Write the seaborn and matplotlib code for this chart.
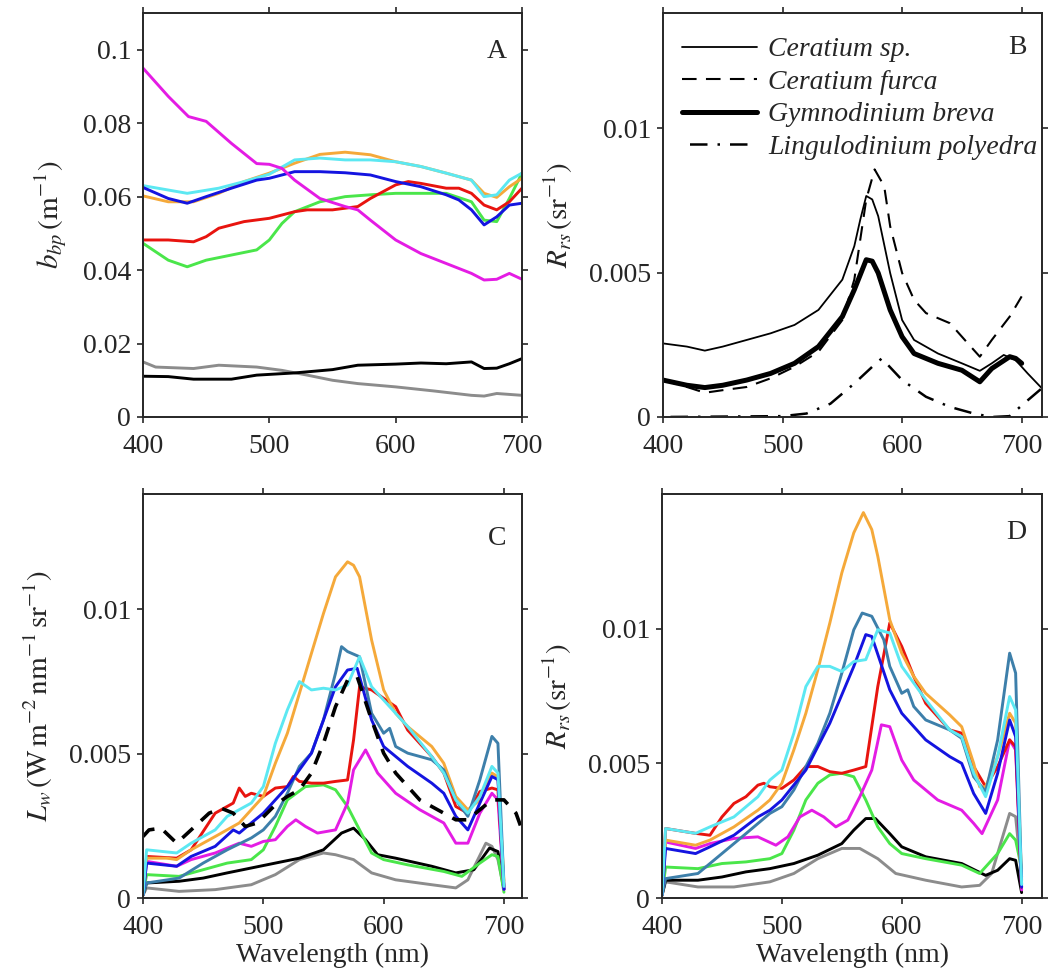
import matplotlib
matplotlib.use("Agg")
import matplotlib.pyplot as plt
from matplotlib.ticker import FuncFormatter, FixedLocator
import seaborn as sns

# ---------------- Panel A: particulate backscattering b_bp ----------------
A_MAGENTA_WL = [400, 420, 436, 450, 470, 490, 500, 510, 520, 540, 560, 570, 580, 600, 620, 640, 660, 670, 680, 690, 700]
A_MAGENTA = [0.095, 0.0873, 0.0818, 0.0805, 0.0745, 0.069, 0.0688, 0.0677, 0.0645, 0.0595, 0.0573, 0.0564, 0.0536,
             0.0482, 0.0445, 0.0418, 0.0391, 0.0373, 0.0375, 0.0391, 0.0375]
A_ORANGE_WL = [400, 420, 440, 460, 480, 500, 520, 540, 560, 580, 600, 620, 640, 660, 670, 680, 690, 700]
A_ORANGE = [0.0602, 0.0586, 0.0586, 0.0609, 0.0641, 0.0664, 0.0691, 0.0715, 0.0721, 0.0714, 0.0695, 0.0682, 0.0664,
            0.0645, 0.0609, 0.0598, 0.0627, 0.065]
A_CYAN_WL = [400, 420, 435, 460, 480, 500, 520, 540, 560, 580, 600, 620, 640, 660, 670, 680, 690, 700]
A_CYAN = [0.063, 0.0618, 0.0609, 0.0623, 0.0641, 0.0661, 0.070, 0.0705, 0.070, 0.070, 0.0695, 0.0682, 0.0664,
          0.0645, 0.060, 0.0605, 0.0645, 0.0664]
A_BLUE_WL = [400, 420, 435, 450, 470, 490, 500, 520, 540, 560, 580, 600, 620, 640, 650, 660, 670, 680, 690, 700]
A_BLUE = [0.0625, 0.0595, 0.0582, 0.060, 0.0623, 0.0645, 0.065, 0.0668, 0.0668, 0.0665, 0.0659, 0.0641, 0.0627,
          0.0605, 0.0591, 0.0564, 0.0523, 0.0545, 0.0577, 0.0582]
A_RED_WL = [400, 420, 440, 450, 460, 480, 500, 520, 530, 550, 570, 580, 600, 610, 620, 640, 650, 660, 670, 680, 690, 700]
A_RED = [0.0482, 0.0482, 0.0477, 0.0491, 0.0514, 0.0532, 0.0541, 0.0559, 0.0564, 0.0564, 0.0573, 0.0595, 0.0632,
         0.0641, 0.0636, 0.0623, 0.0623, 0.0609, 0.0577, 0.0564, 0.0586, 0.0623]
A_GREEN_WL = [400, 420, 435, 450, 470, 490, 500, 510, 520, 540, 560, 580, 600, 620, 640, 660, 670, 680, 690, 700]
A_GREEN = [0.0473, 0.0427, 0.0409, 0.0427, 0.0441, 0.0455, 0.0482, 0.0527, 0.0559, 0.0586, 0.060, 0.0605, 0.0609,
           0.0609, 0.0609, 0.0586, 0.0536, 0.0532, 0.0595, 0.0664]
A_BLACK_WL = [400, 420, 440, 470, 490, 520, 550, 570, 600, 620, 640, 660, 670, 680, 690, 700]
A_BLACK = [0.0111, 0.011, 0.0103, 0.0103, 0.0114, 0.012, 0.0129, 0.0141, 0.0144, 0.0147, 0.0145, 0.015, 0.0132,
           0.0133, 0.0145, 0.0159]
A_GRAY_WL = [400, 410, 440, 460, 490, 510, 530, 550, 570, 600, 630, 660, 670, 680, 700]
A_GRAY = [0.015, 0.0136, 0.0132, 0.0141, 0.0136, 0.0127, 0.0114, 0.010, 0.0091, 0.0082, 0.0071, 0.0059, 0.0057,
          0.0064, 0.0059]

# ---------------- Panel B: modelled R_rs for four dinoflagellates ----------------
SPECIES = ["Ceratium sp.", "Ceratium furca", "Gymnodinium breva", "Lingulodinium polyedra"]
B_CSP_WL = [400, 420, 435, 450, 470, 490, 510, 530, 550, 560, 565, 570, 575, 580, 590, 600, 610, 630, 650, 665,
            675, 685, 695, 705, 717]
B_CSP = [0.00255, 0.00244, 0.0023, 0.00244, 0.00267, 0.0029, 0.00319, 0.00371, 0.00476, 0.00592, 0.00684, 0.00766,
         0.00754, 0.00696, 0.00499, 0.00336, 0.00267, 0.0022, 0.00186, 0.0016, 0.00186, 0.00215, 0.00197, 0.00151,
         0.00099]
B_CFU_WL = [400, 420, 435, 450, 470, 490, 510, 530, 550, 560, 565, 570, 577, 585, 590, 600, 610, 620, 640, 655,
            665, 675, 690, 700]
B_CFU = [0.00128, 0.00104, 0.00084, 0.00093, 0.00104, 0.00134, 0.00174, 0.00226, 0.00336, 0.00476, 0.00615,
         0.00754, 0.00858, 0.008, 0.00661, 0.00499, 0.00406, 0.0036, 0.00325, 0.00255, 0.00209, 0.00267, 0.00348,
         0.00418]
B_GBR_WL = [400, 420, 435, 450, 470, 490, 510, 530, 550, 560, 570, 575, 580, 590, 600, 610, 630, 650, 665, 675,
            690, 695, 700]
B_GBR = [0.00128, 0.0011, 0.00102, 0.0011, 0.00128, 0.00151, 0.00186, 0.00244, 0.00348, 0.00441, 0.00545, 0.0054,
         0.00499, 0.00371, 0.00278, 0.0022, 0.00186, 0.00162, 0.00122, 0.00168, 0.00209, 0.00203, 0.00186]
B_LPO_WL = [400, 500, 520, 540, 560, 575, 583, 600, 620, 640, 660, 675, 690, 700, 717]
B_LPO = [0.0, 0.00003, 0.00012, 0.00046, 0.00116, 0.00174, 0.00203, 0.00128, 0.0007, 0.00035, 0.00012, 0.0, 0.00003,
         0.0004, 0.001]

# ---------------- Panel C: water-leaving radiance L_w ----------------
C_ORANGE_WL = [400, 403, 420, 428, 440, 460, 480, 490, 500, 510, 520, 530, 540, 550, 560, 570, 575, 580, 590, 600,
               610, 620, 640, 650, 660, 670, 680, 690, 695, 700]
C_ORANGE = [0.0001, 0.00138, 0.00138, 0.00133, 0.00167, 0.00213, 0.0026, 0.00306, 0.00352, 0.00467, 0.00571,
            0.00709, 0.00848, 0.00986, 0.01113, 0.01165, 0.01153, 0.01113, 0.00894, 0.00721, 0.0064, 0.00594,
            0.00525, 0.00467, 0.00352, 0.00306, 0.0034, 0.00433, 0.0042, 0.0006]
C_CYAN_WL = [400, 403, 428, 440, 460, 470, 480, 490, 500, 510, 520, 530, 540, 550, 560, 570, 580, 590, 600, 620,
             640, 650, 660, 670, 680, 690, 695, 700]
C_CYAN = [0.0001, 0.00167, 0.00156, 0.0019, 0.00236, 0.00283, 0.00306, 0.00329, 0.00386, 0.00536, 0.00652, 0.0075,
          0.00721, 0.00727, 0.00721, 0.00738, 0.00836, 0.00732, 0.00686, 0.00594, 0.0049, 0.00433, 0.0034, 0.00294,
          0.00352, 0.00456, 0.00433, 0.0004]
C_STEEL_WL = [400, 403, 430, 450, 470, 490, 500, 510, 520, 530, 540, 550, 560, 565, 570, 580, 590, 600, 605, 610,
              620, 640, 650, 660, 670, 680, 690, 695, 700]
C_STEEL = [0.0001, 0.00052, 0.00069, 0.00121, 0.00167, 0.00208, 0.00236, 0.00283, 0.00363, 0.00456, 0.00502,
           0.00617, 0.00779, 0.00871, 0.00854, 0.00836, 0.0064, 0.00571, 0.00588, 0.00525, 0.00502, 0.00479,
           0.00444, 0.0034, 0.00283, 0.0041, 0.0056, 0.00536, 0.0004]
C_BLUE_WL = [400, 403, 428, 440, 460, 475, 480, 490, 500, 520, 540, 550, 560, 570, 578, 590, 600, 620, 640, 650,
             660, 670, 680, 690, 695, 700]
C_BLUE = [0.0001, 0.00121, 0.0011, 0.00144, 0.00179, 0.00236, 0.00225, 0.0026, 0.00294, 0.00386, 0.00502, 0.00617,
          0.00732, 0.0079, 0.00796, 0.00617, 0.00525, 0.00456, 0.00398, 0.00363, 0.00283, 0.00236, 0.00329, 0.00421,
          0.0041, 0.0003]
C_RED_WL = [400, 403, 428, 440, 460, 475, 480, 485, 490, 500, 510, 520, 525, 530, 540, 550, 560, 570, 575, 580, 590,
            600, 610, 620, 640, 650, 660, 670, 680, 690, 695, 700]
C_RED = [0.0001, 0.00144, 0.00138, 0.00167, 0.00294, 0.00329, 0.00381, 0.00352, 0.00363, 0.00352, 0.00381, 0.00386,
         0.00421, 0.00404, 0.00398, 0.00398, 0.00404, 0.00409, 0.00548, 0.00732, 0.00721, 0.00692, 0.00663,
         0.00582, 0.0049, 0.00433, 0.00317, 0.00294, 0.00369, 0.00381, 0.00375, 0.0004]
C_MAGENTA_WL = [400, 403, 428, 440, 460, 480, 490, 500, 510, 520, 527, 535, 545, 560, 570, 575, 585, 595, 610, 630,
                650, 660, 670, 680, 690, 695, 700]
C_MAGENTA = [0.0001, 0.00127, 0.0011, 0.00133, 0.00156, 0.0019, 0.00179, 0.00196, 0.00202, 0.00248, 0.00271,
             0.00248, 0.00225, 0.00236, 0.00329, 0.00444, 0.00513, 0.00433, 0.00363, 0.00306, 0.0026, 0.0019,
             0.0019, 0.00294, 0.00363, 0.0034, 0.0003]
C_GREEN_WL = [400, 403, 430, 450, 470, 490, 500, 510, 520, 535, 550, 560, 570, 580, 590, 600, 620, 650, 665, 680,
              690, 695, 700]
C_GREEN = [0.0001, 0.00081, 0.00075, 0.00098, 0.00121, 0.00133, 0.00167, 0.00248, 0.0034, 0.00386, 0.00392,
           0.00375, 0.00317, 0.00236, 0.00156, 0.00133, 0.00115, 0.00092, 0.00075, 0.00121, 0.0015, 0.00144, 0.0002]
C_BLACK_WL = [400, 403, 430, 450, 470, 490, 510, 530, 550, 565, 575, 585, 595, 610, 640, 660, 675, 688, 695, 700]
C_BLACK = [0.0001, 0.00052, 0.00058, 0.00069, 0.00087, 0.00104, 0.00121, 0.00138, 0.00167, 0.00225, 0.00242,
           0.00202, 0.0015, 0.00138, 0.0011, 0.00087, 0.00098, 0.00173, 0.00161, 0.0003]
C_GRAY_WL = [400, 403, 430, 460, 490, 510, 530, 550, 560, 575, 590, 610, 640, 660, 670, 685, 690, 695, 700]
C_GRAY = [0.0001, 0.00035, 0.00023, 0.00029, 0.00046, 0.00081, 0.00133, 0.00156, 0.0015, 0.00133, 0.00087, 0.00063,
          0.00046, 0.00035, 0.00063, 0.0019, 0.00179, 0.00133, 0.0003]
C_DASH_WL = [400, 405, 415, 428, 440, 455, 465, 475, 485, 495, 510, 520, 530, 540, 550, 560, 570, 578, 590, 600,
             610, 630, 650, 660, 670, 680, 690, 700, 710, 717]
C_DASH = [0.00213, 0.00236, 0.00242, 0.0019, 0.00236, 0.00294, 0.00311, 0.00294, 0.00248, 0.0026, 0.00323, 0.00352,
          0.00375, 0.00433, 0.00536, 0.00663, 0.00755, 0.00767, 0.00617, 0.00502, 0.00433, 0.0034, 0.00294,
          0.00271, 0.00271, 0.00306, 0.0034, 0.0034, 0.00294, 0.00213]

# ---------------- Panel D: remote-sensing reflectance R_rs ----------------
D_ORANGE_WL = [400, 403, 428, 440, 460, 480, 490, 500, 510, 520, 530, 540, 550, 560, 568, 575, 580, 590, 600, 610,
               620, 640, 650, 660, 665, 670, 680, 690, 695, 700]
D_ORANGE = [0.0001, 0.00215, 0.00196, 0.00215, 0.00264, 0.00326, 0.00364, 0.00426, 0.0055, 0.00686, 0.00847,
            0.01021, 0.01207, 0.01356, 0.01431, 0.01368, 0.01269, 0.01033, 0.00909, 0.00823, 0.0076, 0.0068,
            0.00636, 0.005, 0.00413, 0.00413, 0.00525, 0.00686, 0.00649, 0.00066]
D_CYAN_WL = [400, 403, 428, 440, 460, 480, 490, 500, 510, 520, 530, 540, 550, 560, 570, 580, 590, 600, 620, 640,
             650, 660, 670, 680, 690, 695, 700]
D_CYAN = [0.0001, 0.00258, 0.0024, 0.00264, 0.00301, 0.00376, 0.00438, 0.00475, 0.00612, 0.00785, 0.0086, 0.0086,
          0.00841, 0.00878, 0.00885, 0.00996, 0.00984, 0.0086, 0.00736, 0.00624, 0.00599, 0.00463, 0.00376,
          0.00525, 0.00748, 0.00698, 0.0005]
D_STEEL_WL = [400, 403, 430, 450, 470, 490, 500, 510, 520, 530, 540, 550, 560, 567, 575, 585, 590, 600, 605, 610,
              620, 640, 650, 660, 670, 680, 690, 695, 700]
D_STEEL = [0.0001, 0.00072, 0.00091, 0.00165, 0.00239, 0.00314, 0.00339, 0.00401, 0.00488, 0.00574, 0.00686,
           0.00835, 0.00996, 0.01058, 0.01046, 0.00959, 0.0086, 0.0076, 0.00773, 0.00711, 0.00661, 0.00624,
           0.00593, 0.0045, 0.00395, 0.00587, 0.00909, 0.00835, 0.0005]
D_BLUE_WL = [400, 403, 428, 440, 460, 480, 490, 500, 520, 540, 560, 570, 575, 590, 600, 620, 640, 650, 660, 670,
             680, 690, 695, 700]
D_BLUE = [0.0001, 0.00184, 0.00165, 0.0019, 0.00233, 0.00301, 0.00326, 0.00364, 0.00475, 0.00649, 0.0086, 0.00978,
          0.00971, 0.00773, 0.00686, 0.00587, 0.00525, 0.005, 0.00388, 0.00314, 0.00463, 0.00661, 0.00599, 0.0004]
D_RED_WL = [400, 403, 428, 440, 450, 460, 470, 480, 485, 490, 500, 510, 520, 530, 540, 550, 560, 570, 580, 590, 600,
            610, 620, 640, 650, 660, 670, 680, 690, 695, 700]
D_RED = [0.0001, 0.00258, 0.0024, 0.00233, 0.00301, 0.00351, 0.00376, 0.00419, 0.00426, 0.00413, 0.00407, 0.00438,
         0.00488, 0.00488, 0.00469, 0.00463, 0.00475, 0.00488, 0.00785, 0.01021, 0.00934, 0.00823, 0.00723,
         0.00624, 0.00612, 0.00488, 0.00413, 0.00488, 0.00587, 0.00562, 0.0004]
D_MAGENTA_WL = [400, 403, 428, 440, 460, 480, 495, 505, 515, 525, 535, 545, 555, 565, 575, 583, 590, 600, 610, 630,
                650, 660, 667, 680, 690, 695, 700]
D_MAGENTA = [0.0001, 0.00208, 0.00184, 0.00202, 0.00221, 0.00227, 0.00196, 0.00227, 0.00301, 0.00326, 0.00301,
             0.00264, 0.00289, 0.00376, 0.00475, 0.00643, 0.00636, 0.00512, 0.00438, 0.00364, 0.00326, 0.00277,
             0.00239, 0.00364, 0.00587, 0.0055, 0.0003]
D_GREEN_WL = [400, 403, 430, 450, 470, 490, 500, 510, 520, 530, 540, 550, 560, 570, 580, 590, 600, 620, 650, 665,
              680, 690, 695, 700]
D_GREEN = [0.0001, 0.00115, 0.00109, 0.00128, 0.00134, 0.00146, 0.00165, 0.00252, 0.00364, 0.00426, 0.00457,
           0.00463, 0.0045, 0.00364, 0.00264, 0.00202, 0.00165, 0.00146, 0.00122, 0.00091, 0.00165, 0.00239,
           0.00215, 0.00109]
D_BLACK_WL = [400, 403, 430, 450, 470, 490, 510, 530, 550, 560, 570, 578, 590, 600, 620, 650, 670, 680, 690, 695,
              700]
D_BLACK = [0.0001, 0.00066, 0.00066, 0.00078, 0.00097, 0.00109, 0.00128, 0.00159, 0.00202, 0.00252, 0.00295,
           0.00295, 0.00239, 0.0019, 0.00153, 0.00128, 0.00084, 0.00103, 0.00146, 0.0014, 0.0002]
D_GRAY_WL = [400, 403, 430, 460, 490, 510, 530, 550, 565, 580, 595, 620, 650, 665, 675, 690, 695, 700]
D_GRAY = [0.0001, 0.0006, 0.00041, 0.00041, 0.0006, 0.00091, 0.00146, 0.00184, 0.00184, 0.00146, 0.00091, 0.00066,
          0.00041, 0.00047, 0.00091, 0.00314, 0.00302, 0.00078]

# ---------------- styling ----------------
ORANGE = "#F5A93A"
CYAN = "#5CE8F2"
BLUE = "#1414E0"
RED = "#E8140F"
GREEN = "#4AE64A"
MAGENTA = "#E41CE4"
GRAY = "#8C8C8C"
STEEL = "#3D7FAA"
BLACK = "#000000"

sns.set_style("ticks")
plt.rcParams["font.family"] = ["Liberation Serif", "DejaVu Serif"]
plt.rcParams["mathtext.fontset"] = "stix"
FS = 20

fig = plt.figure(figsize=(10.52, 9.73), dpi=100)
W, H = 1052.0, 973.0


def make_axes(x0, x1, ytop, ybot):
    return fig.add_axes([x0 / W, 1 - ybot / H, (x1 - x0) / W, (ybot - ytop) / H])


axA = make_axes(143, 522, 13, 417)
axB = make_axes(663, 1042, 13, 417)
axC = make_axes(143, 522, 494, 898)
axD = make_axes(662, 1042, 494, 898)

LW = 2.1


def draw(ax, wl, vals, color, lw=LW, ls="-"):
    sns.lineplot(x=wl, y=vals, ax=ax, color=color, linewidth=lw, linestyle=ls, sort=False,
                 estimator=None, legend=False)


# Panel A
for wl, v, c in [(A_GRAY_WL, A_GRAY, GRAY), (A_BLACK_WL, A_BLACK, BLACK), (A_GREEN_WL, A_GREEN, GREEN),
                 (A_RED_WL, A_RED, RED), (A_ORANGE_WL, A_ORANGE, ORANGE), (A_CYAN_WL, A_CYAN, CYAN),
                 (A_BLUE_WL, A_BLUE, BLUE), (A_MAGENTA_WL, A_MAGENTA, MAGENTA)]:
    draw(axA, wl, v, c)

# Panel B
hB = []
for wl, v, lw, ls, name in [(B_CSP_WL, B_CSP, 1.3, "-", SPECIES[0]),
                            (B_CFU_WL, B_CFU, 1.5, (0, (7, 4.5)), SPECIES[1]),
                            (B_GBR_WL, B_GBR, 3.6, "-", SPECIES[2]),
                            (B_LPO_WL, B_LPO, 1.8, (2, (1, 4, 7, 4)), SPECIES[3])]:
    line, = axB.plot([], [], color=BLACK, linewidth=lw, linestyle=ls, label=name)
    draw(axB, wl, v, BLACK, lw=lw, ls=ls)
    hB.append(line)
axB.legend(handles=hB, loc="upper left", bbox_to_anchor=(19 / 379, 1 - 24 / 404), frameon=False,
           prop={"family": "Liberation Serif", "style": "italic", "size": FS}, handlelength=2.7,
           handletextpad=0.4, labelspacing=0.25, borderaxespad=0, borderpad=0)

# Panel C
for wl, v, c in [(C_GRAY_WL, C_GRAY, GRAY), (C_BLACK_WL, C_BLACK, BLACK), (C_GREEN_WL, C_GREEN, GREEN),
                 (C_MAGENTA_WL, C_MAGENTA, MAGENTA), (C_RED_WL, C_RED, RED), (C_ORANGE_WL, C_ORANGE, ORANGE),
                 (C_STEEL_WL, C_STEEL, STEEL), (C_BLUE_WL, C_BLUE, BLUE), (C_CYAN_WL, C_CYAN, CYAN)]:
    draw(axC, wl, v, c)
draw(axC, C_DASH_WL, C_DASH, BLACK, lw=2.6, ls=(0, (4, 3)))

# Panel D
for wl, v, c in [(D_GRAY_WL, D_GRAY, GRAY), (D_BLACK_WL, D_BLACK, BLACK), (D_GREEN_WL, D_GREEN, GREEN),
                 (D_MAGENTA_WL, D_MAGENTA, MAGENTA), (D_RED_WL, D_RED, RED), (D_ORANGE_WL, D_ORANGE, ORANGE),
                 (D_STEEL_WL, D_STEEL, STEEL), (D_BLUE_WL, D_BLUE, BLUE), (D_CYAN_WL, D_CYAN, CYAN)]:
    draw(axD, wl, v, c)

fmt = FuncFormatter(lambda v, p: "0" if v == 0 else ("%g" % v))

settings = [
    (axA, (400, 700), (0, 0.11), [0, 0.02, 0.04, 0.06, 0.08, 0.1], "A", 0.905,
     r"$b_{bp}\,(\mathrm{m}^{-1})$", None),
    (axB, (400, 717), (0, 0.014), [0, 0.005, 0.01], "B", 0.915, r"$R_{rs}\,(\mathrm{sr}^{-1})$", None),
    (axC, (400, 715), (0, 0.014), [0, 0.005, 0.01], "C", 0.89,
     r"$L_w\,(\mathrm{W\,m^{-2}\,nm^{-1}\,sr^{-1}})$", "Wavelength (nm)"),
    (axD, (400, 717), (0, 0.015), [0, 0.005, 0.01], "D", 0.905, r"$R_{rs}\,(\mathrm{sr}^{-1})$", "Wavelength (nm)"),
]
for ax, xl, yl, yt, letter, ly, ylab, xlab in settings:
    ax.set_xlim(*xl)
    ax.set_ylim(*yl)
    ax.xaxis.set_major_locator(FixedLocator([400, 500, 600, 700]))
    ax.yaxis.set_major_locator(FixedLocator(yt))
    ax.yaxis.set_major_formatter(fmt)
    ax.tick_params(direction="out", length=4.5, width=1.2, top=True, right=True, labelsize=FS)
    ax.tick_params(axis="x", pad=8)
    ax.tick_params(axis="y", pad=4)
    for s in ax.spines.values():
        s.set_linewidth(1.4)
        s.set_visible(True)
    ax.set_ylabel(ylab, fontsize=FS + 1, labelpad=10)
    ax.set_xlabel(xlab if xlab else "", fontsize=FS, labelpad=2)
    ax.text(0.96, ly, letter, transform=ax.transAxes, ha="right", va="center", fontsize=FS)

fig.savefig("out.png", dpi=100)
